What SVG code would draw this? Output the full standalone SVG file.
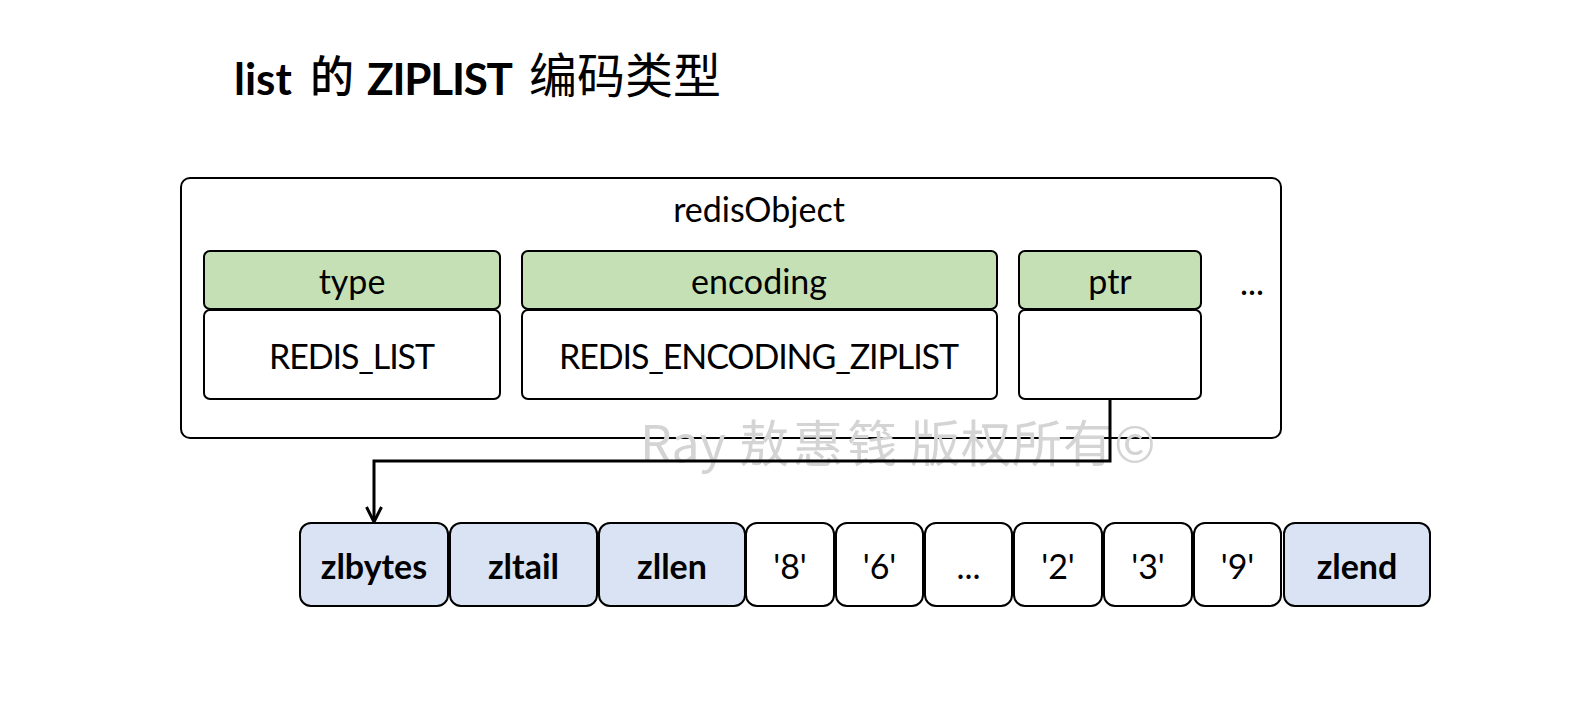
<svg xmlns="http://www.w3.org/2000/svg" width="1578" height="718" viewBox="0 0 1578 718">
<style>
.t{font-family:Lato,"Noto Sans",sans-serif;font-size:34px;fill:#000;text-anchor:middle}
.b{font-weight:bold}
.hdr{fill:#c5e0b4;stroke:#000;stroke-width:2}
.val{fill:#fff;stroke:#000;stroke-width:2}
.cell{fill:#fff;stroke:#000;stroke-width:2}
.blue{fill:#dae3f3;stroke:#000;stroke-width:2}
.wm{font-family:"Noto Sans CJK SC","Noto Sans",sans-serif;font-size:50px;fill:#d4d4d4}
.conn{fill:none;stroke:#000;stroke-width:3}
</style>
<rect width="1578" height="718" fill="#fff"/>
<g id="title">
<text x="234" y="95" style="font-family:Lato,sans-serif;font-weight:bold;font-size:44px">list</text>
<text x="310" y="93" style="font-family:'Noto Sans CJK SC',sans-serif;font-size:44px;font-weight:500">的</text>
<text x="367" y="95" style="font-family:Lato,sans-serif;font-weight:bold;font-size:44px" textLength="146">ZIPLIST</text>
<text x="529" y="93" style="font-family:'Noto Sans CJK SC',sans-serif;font-size:48px">编码类型</text>
</g>
<g id="redisObject">
<rect x="181" y="178" width="1100" height="260" rx="9" fill="#fff" stroke="#000" stroke-width="2"/>
<text class="t" x="759" y="222">redisObject</text>
</g>
<g id="watermark" class="wm">
<text x="640" y="462">Ray</text>
<text x="739" y="462" letter-spacing="4">敖惠篯</text>
<text x="910" y="462" letter-spacing="1">版权所有©</text>
</g>
<g id="type">
<rect class="hdr" x="204" y="251" width="296" height="58" rx="6"/>
<text class="t" x="352" y="294">type</text>
<rect class="val" x="204" y="310" width="296" height="89" rx="6"/>
<text class="t" x="352" y="369" textLength="166">REDIS_LIST</text>
</g>
<g id="encoding">
<rect class="hdr" x="522" y="251" width="475" height="58" rx="6"/>
<text class="t" x="759" y="294">encoding</text>
<rect class="val" x="522" y="310" width="475" height="89" rx="6"/>
<text class="t" x="759" y="369" textLength="400">REDIS_ENCODING_ZIPLIST</text>
</g>
<g id="ptr">
<rect class="hdr" x="1019" y="251" width="182" height="58" rx="6"/>
<text class="t" x="1110" y="294">ptr</text>
<rect class="val" x="1019" y="310" width="182" height="89" rx="6"/>
</g>
<g id="more">
<text class="t" x="1252" y="295">...</text>
</g>
<g id="connectors">
<path class="conn" d="M1110 399 V461 H374 V521"/>
<path class="conn" d="M366.5 507 L374 522 L381.5 507" stroke-width="2.5"/>
</g>
<g id="zlbytes"><rect class="blue" x="300" y="523" width="148" height="83" rx="11"/><text class="t b" x="374" y="579">zlbytes</text></g>
<g id="zltail"><rect class="blue" x="450" y="523" width="147" height="83" rx="11"/><text class="t b" x="523.5" y="579">zltail</text></g>
<g id="zllen"><rect class="blue" x="599" y="523" width="146" height="83" rx="11"/><text class="t b" x="672" y="579">zllen</text></g>
<g id="e8"><rect class="cell" x="746" y="523" width="88" height="83" rx="11"/><text class="t" x="790" y="579">'8'</text></g>
<g id="e6"><rect class="cell" x="836" y="523" width="87" height="83" rx="11"/><text class="t" x="879.5" y="579">'6'</text></g>
<g id="edots"><rect class="cell" x="925" y="523" width="87" height="83" rx="11"/><text class="t" x="968.5" y="579">...</text></g>
<g id="e2"><rect class="cell" x="1014" y="523" width="88" height="83" rx="11"/><text class="t" x="1058" y="579">'2'</text></g>
<g id="e3"><rect class="cell" x="1104" y="523" width="88" height="83" rx="11"/><text class="t" x="1148" y="579">'3'</text></g>
<g id="e9"><rect class="cell" x="1194" y="523" width="87" height="83" rx="11"/><text class="t" x="1237.5" y="579">'9'</text></g>
<g id="zlend"><rect class="blue" x="1284" y="523" width="146" height="83" rx="11"/><text class="t b" x="1357" y="579">zlend</text></g>
</svg>
